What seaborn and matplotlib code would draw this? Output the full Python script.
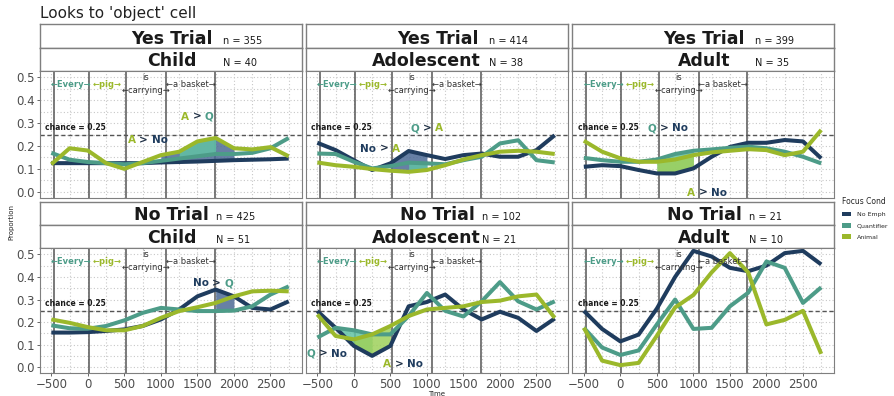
import numpy as np
import pandas as pd
import matplotlib
matplotlib.use("Agg")
import matplotlib.pyplot as plt
import seaborn as sns
from matplotlib.patches import Patch
from matplotlib.offsetbox import TextArea, HPacker, AnnotationBbox

# ---- data ----
time_ms = [-500, -250, 0, 250, 500, 750, 1000, 1250, 1500, 1750, 2000, 2250, 2500, 2750]

trials = ["Yes Trial", "No Trial"]
ages = ["Child", "Adolescent", "Adult"]
trial_n = [[355, 414, 399], [425, 102, 21]]
subj_n = [[40, 38, 35], [51, 21, 10]]
conds = ["No Emph", "Quantifier", "Animal"]

yes_child_no = [0.125, 0.125, 0.125, 0.125, 0.125, 0.125, 0.128, 0.13, 0.132, 0.135, 0.138, 0.14, 0.142, 0.145]
yes_child_q = [0.17, 0.14, 0.13, 0.125, 0.12, 0.125, 0.135, 0.145, 0.155, 0.165, 0.165, 0.17, 0.19, 0.235]
yes_child_a = [0.12, 0.19, 0.18, 0.125, 0.10, 0.13, 0.16, 0.175, 0.22, 0.235, 0.19, 0.185, 0.195, 0.155]

yes_adol_no = [0.214, 0.182, 0.138, 0.095, 0.124, 0.178, 0.16, 0.143, 0.16, 0.167, 0.153, 0.153, 0.182, 0.247]
yes_adol_q = [0.167, 0.165, 0.131, 0.102, 0.112, 0.127, 0.124, 0.12, 0.138, 0.153, 0.211, 0.225, 0.138, 0.128]
yes_adol_a = [0.128, 0.116, 0.109, 0.099, 0.092, 0.087, 0.095, 0.116, 0.141, 0.16, 0.175, 0.179, 0.175, 0.165]

yes_adult_no = [0.109, 0.116, 0.112, 0.095, 0.08, 0.08, 0.102, 0.153, 0.196, 0.214, 0.214, 0.226, 0.22, 0.146]
yes_adult_q = [0.148, 0.138, 0.131, 0.131, 0.141, 0.165, 0.179, 0.185, 0.192, 0.197, 0.19, 0.175, 0.153, 0.124]
yes_adult_a = [0.223, 0.175, 0.146, 0.131, 0.131, 0.141, 0.16, 0.172, 0.179, 0.186, 0.182, 0.16, 0.175, 0.27]

no_child_no = [0.154, 0.154, 0.156, 0.161, 0.168, 0.183, 0.212, 0.256, 0.314, 0.344, 0.314, 0.263, 0.256, 0.292]
no_child_q = [0.186, 0.173, 0.171, 0.183, 0.208, 0.241, 0.263, 0.256, 0.249, 0.249, 0.251, 0.27, 0.322, 0.358]
no_child_a = [0.212, 0.197, 0.178, 0.164, 0.164, 0.183, 0.219, 0.249, 0.266, 0.285, 0.314, 0.336, 0.339, 0.336]

no_adol_no = [0.249, 0.175, 0.095, 0.051, 0.095, 0.27, 0.289, 0.322, 0.256, 0.212, 0.246, 0.219, 0.161, 0.216]
no_adol_q = [0.132, 0.175, 0.164, 0.146, 0.146, 0.227, 0.329, 0.25, 0.225, 0.292, 0.377, 0.292, 0.256, 0.292]
no_adol_a = [0.234, 0.139, 0.124, 0.146, 0.183, 0.227, 0.256, 0.263, 0.27, 0.289, 0.295, 0.314, 0.322, 0.219]

no_adult_no = [0.25, 0.17, 0.115, 0.145, 0.26, 0.40, 0.515, 0.49, 0.44, 0.425, 0.45, 0.505, 0.515, 0.455]
no_adult_q = [0.175, 0.088, 0.055, 0.075, 0.19, 0.30, 0.17, 0.175, 0.27, 0.33, 0.468, 0.44, 0.285, 0.354]
no_adult_a = [0.175, 0.03, 0.01, 0.02, 0.14, 0.265, 0.32, 0.42, 0.505, 0.42, 0.19, 0.21, 0.25, 0.06]

series = {
    (0, 0): [yes_child_no, yes_child_q, yes_child_a],
    (0, 1): [yes_adol_no, yes_adol_q, yes_adol_a],
    (0, 2): [yes_adult_no, yes_adult_q, yes_adult_a],
    (1, 0): [no_child_no, no_child_q, no_child_a],
    (1, 1): [no_adol_no, no_adol_q, no_adol_a],
    (1, 2): [no_adult_no, no_adult_q, no_adult_a],
}

# word onsets (ms) and words
word_bounds = [-465, 15, 525, 1070, 1740]
chance = 0.25

# significant-difference ribbons: (row, col, upper, lower, start, end, fill)
ribbons = [
    (0, 0, "Animal", "No Emph", 1000, 2000, "slate"),
    (0, 0, "Animal", "Quantifier", 1250, 1750, "mint"),
    (0, 1, "No Emph", "Animal", 500, 1000, "slate"),
    (0, 1, "Quantifier", "Animal", 750, 1000, "mint"),
    (0, 2, "Quantifier", "No Emph", 500, 1000, "mint"),
    (0, 2, "Animal", "No Emph", 500, 1000, "lime"),
    (1, 0, "No Emph", "Quantifier", 1750, 2000, "slate"),
    (1, 1, "Quantifier", "No Emph", -250, 250, "mint"),
    (1, 1, "Animal", "No Emph", 0, 500, "lime"),
]

# comparison labels: (row, col, x, y, left, right)
comparisons = [
    (0, 0, 1500, 0.328, "A", "Q"),
    (0, 0, 820, 0.226, "A", "No"),
    (0, 1, 360, 0.189, "No", "A"),
    (0, 1, 1000, 0.277, "Q", "A"),
    (0, 2, 650, 0.277, "Q", "No"),
    (0, 2, 1190, -0.004, "A", "No"),
    (1, 0, 1710, 0.373, "No", "Q"),
    (1, 1, -370, 0.061, "Q", "No"),
    (1, 1, 670, 0.015, "A", "No"),
]

# ---- styling ----
palette = {"No Emph": "#1f3c5e", "Quantifier": "#4d9c88", "Animal": "#9bb82b"}
short_col = {"No": palette["No Emph"], "Q": palette["Quantifier"], "A": palette["Animal"]}
fills = {"slate": "#4c6a95", "mint": "#62c2a4", "lime": "#9ed05a"}

sns.set_theme(style="white")
plt.rcParams["font.family"] = ["DejaVu Sans"]

rows = []
for (r, c), vals in series.items():
    for cond, v in zip(conds, vals):
        for t, p in zip(time_ms, v):
            rows.append({"trial": trials[r], "age": ages[c], "cond": cond, "time": t, "prop": p})
df = pd.DataFrame(rows)

W, H = 894, 396
fig = plt.figure(figsize=(W / 100, H / 100), dpi=100)


def rect(x0, y0, x1, y1):
    return [x0 / W, 1 - y1 / H, (x1 - x0) / W, (y1 - y0) / H]


col_x = [(39.5, 301.5), (305.5, 567.5), (572, 834)]
row_y = [(24.3, 48.3, 70.7, 197.7), (202.3, 225, 247.7, 373.3)]
edge = "#7f7f7f"
n_pos = [0.70, 0.675]

for r in range(2):
    for c in range(3):
        x0, x1 = col_x[c]
        s1, s2, p0, p1 = row_y[r]

        # strips
        for (ya, yb), main, small in [((s1, s2), trials[r], f"n = {trial_n[r][c]}"),
                                      ((s2, p0), ages[c], f"N = {subj_n[r][c]}")]:
            sa = fig.add_axes(rect(x0, ya, x1, yb))
            sa.set_facecolor("white")
            sa.set_xticks([])
            sa.set_yticks([])
            for sp in sa.spines.values():
                sp.set_color(edge)
                sp.set_linewidth(1)
            cx = 0.46 if main == "Adolescent" else 0.505
            sa.text(cx, 0.2, main, ha="center", va="baseline", fontsize=12.5,
                    fontweight="bold", color="#1a1a1a", transform=sa.transAxes)
            sa.text(n_pos[r], 0.2, small, ha="left", va="baseline", fontsize=7,
                    color="#1a1a1a", transform=sa.transAxes)

        ax = fig.add_axes(rect(x0, p0, x1, p1))
        ax.set_facecolor("white")
        ax.set_axisbelow(True)
        sub = df[(df.trial == trials[r]) & (df.age == ages[c])]

        t = np.array(time_ms)
        for (rr, cc, up, lo, a, b, f) in ribbons:
            if (rr, cc) != (r, c):
                continue
            yu = sub[sub.cond == up].sort_values("time")["prop"].to_numpy()
            yl = sub[sub.cond == lo].sort_values("time")["prop"].to_numpy()
            ax.fill_between(t, yl, yu, where=(t >= a) & (t <= b), color=fills[f],
                            alpha=0.85, lw=0, zorder=1.3)

        for xb in word_bounds:
            ax.axvline(xb, color="#555555", lw=1.1, zorder=1.2)
        ax.axhline(chance, color="#555555", lw=1, ls=(0, (3, 2)), zorder=1.4)

        sns.lineplot(data=sub, x="time", y="prop", hue="cond", hue_order=conds,
                     palette=palette, lw=2.9, legend=False, ax=ax, zorder=2,
                     solid_joinstyle="round", solid_capstyle="butt")

        # word labels
        mids = [(word_bounds[i] + word_bounds[i + 1]) / 2 for i in range(4)]
        ax.text(mids[0], 0.47, "\u2190Every\u2192", ha="center", va="center", fontsize=6,
                fontweight="bold", color=palette["Quantifier"])
        ax.text(mids[1], 0.47, "\u2190pig\u2192", ha="center", va="center", fontsize=6,
                fontweight="bold", color=palette["Animal"])
        ax.text(mids[2], 0.50, "is", ha="center", va="center", fontsize=6, color="#333333")
        ax.text(mids[2], 0.443, "\u2190carrying\u2192", ha="center", va="center", fontsize=6,
                color="#333333")
        ax.text(mids[3], 0.47, "\u2190a basket\u2192", ha="center", va="center", fontsize=6,
                color="#333333")
        ax.text(-585, 0.262, "chance = 0.25", ha="left", va="bottom", fontsize=5.5,
                fontweight="bold", color="#1a1a1a")

        for (rr, cc, xx, yy, left, right) in comparisons:
            if (rr, cc) != (r, c):
                continue
            parts = [TextArea(left, textprops=dict(color=short_col[left], fontsize=7.5, fontweight="bold")),
                     TextArea(">", textprops=dict(color="#1e2f44", fontsize=7.5, fontweight="bold")),
                     TextArea(right, textprops=dict(color=short_col[right], fontsize=7.5, fontweight="bold"))]
            box = HPacker(children=parts, sep=2.5, pad=0, align="baseline")
            ab = AnnotationBbox(box, (xx, yy), xycoords="data", frameon=False,
                                box_alignment=(0.5, 0.5), pad=0, annotation_clip=False)
            ax.add_artist(ab)

        ax.set_xlim(-662, 2925)
        ax.set_ylim(-0.026, 0.529)
        ax.set_xticks(range(-500, 2501, 500))
        ax.set_xticks(range(-500, 2751, 250), minor=True)
        ax.set_yticks(np.round(np.arange(0, 0.51, 0.1), 1))
        ax.set_yticks(np.round(np.arange(0, 0.51, 0.05), 2), minor=True)
        ax.grid(which="both", color="#c8c8c8", ls=(0, (1, 2)), lw=0.8)
        ax.set_xlabel("")
        ax.set_ylabel("")
        ax.tick_params(which="minor", length=0)
        ax.tick_params(axis="both", which="major", labelsize=8.5, labelcolor="#4d4d4d",
                       color="#4d4d4d", length=2, width=0.6, pad=1.2)
        ax.tick_params(axis="y", left=(c == 0), labelleft=(c == 0))
        ax.tick_params(axis="x", bottom=(r == 1), labelbottom=(r == 1))
        for sp in ax.spines.values():
            sp.set_color(edge)
            sp.set_linewidth(0.8)

fig.text(40 / W, 1 - 18.3 / H, "Looks to 'object' cell", fontsize=11, va="baseline",
         ha="left", color="#222222")
fig.text(11.7 / W, 1 - 222 / H, "Proportion", rotation=90, fontsize=5, va="center", ha="center",
         color="#222222")
fig.text(436.7 / W, 1 - 393.5 / H, "Time", fontsize=5, va="center", ha="center", color="#222222")

handles = [Patch(facecolor=palette[k], edgecolor="none", label=k) for k in conds]
fig.legend(handles=handles, title="Focus Cond", loc="upper left",
           bbox_to_anchor=(842 / W, 1 - 197 / H), frameon=False, fontsize=4.5,
           title_fontsize=5.5, handlelength=1.5, handleheight=0.8, labelspacing=0.9,
           alignment="left", borderaxespad=0, borderpad=0, handletextpad=0.9)

fig.savefig("out.png", dpi=100)
